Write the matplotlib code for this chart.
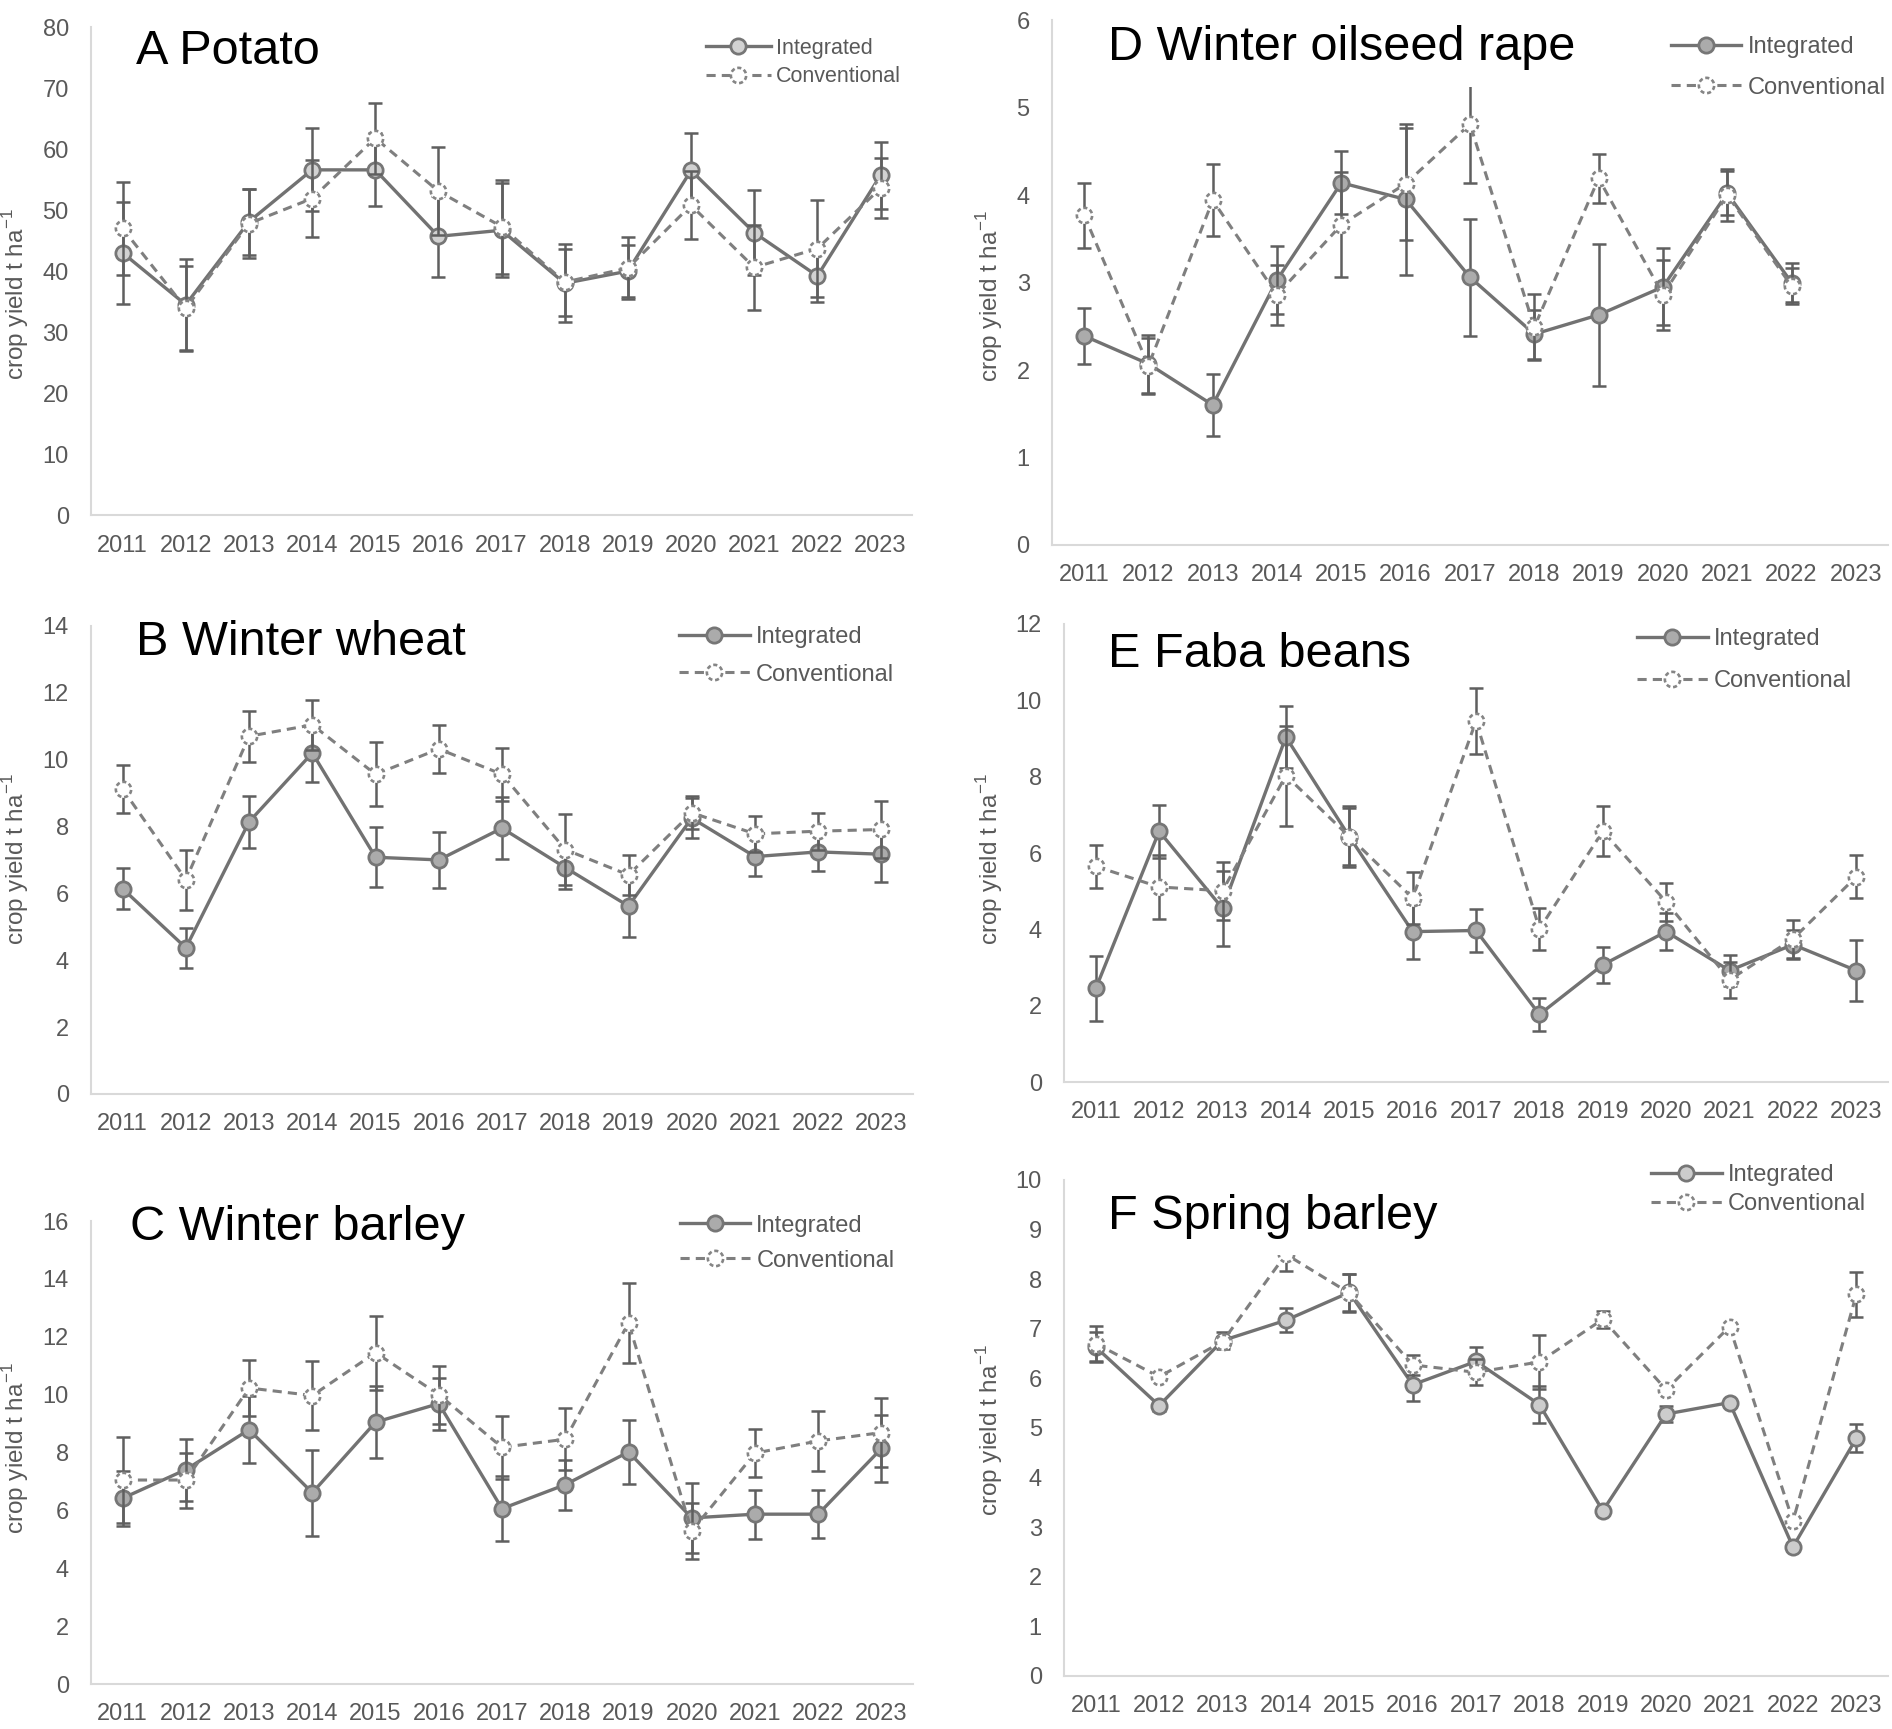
import numpy as np
import matplotlib
matplotlib.use('Agg')
import matplotlib.pyplot as plt
from matplotlib.path import Path

plt.rcParams['font.family'] = ['Liberation Sans', 'DejaVu Sans']

years = ['2011', '2012', '2013', '2014', '2015', '2016', '2017',
         '2018', '2019', '2020', '2021', '2022', '2023']
nan = np.nan

# A Potato
potato_int = [43.0, 34.5, 48.1, 56.6, 56.6, 45.7, 46.7, 38.0, 40.0, 56.5, 46.3, 39.2, 55.7]
potato_int_err = [8.4, 7.5, 5.4, 6.8, 6.0, 6.6, 7.7, 6.4, 4.2, 6.1, 7.0, 4.2, 5.5]
potato_conv = [47.0, 33.9, 47.8, 51.9, 61.8, 53.1, 47.3, 38.2, 40.5, 50.8, 40.6, 43.7, 53.6]
potato_conv_err = [7.6, 7.0, 5.7, 6.3, 5.8, 7.2, 7.7, 5.5, 5.1, 5.6, 7.0, 8.0, 4.9]

# B Winter wheat
wheat_int = [6.14, 4.37, 8.14, 10.2, 7.08, 7.0, 7.95, 6.77, 5.62, 8.25, 7.1, 7.24, 7.17]
wheat_int_err = [0.62, 0.6, 0.78, 0.87, 0.9, 0.85, 0.92, 0.63, 0.94, 0.6, 0.58, 0.56, 0.84]
wheat_conv = [9.12, 6.41, 10.7, 11.04, 9.56, 10.32, 9.56, 7.31, 6.55, 8.41, 7.78, 7.86, 7.91]
wheat_conv_err = [0.73, 0.9, 0.76, 0.74, 0.96, 0.73, 0.8, 1.05, 0.61, 0.5, 0.54, 0.55, 0.84]

# C Winter barley
wbarley_int = [6.42, 7.41, 8.79, 6.61, 9.05, 9.69, 6.06, 6.89, 8.02, 5.74, 5.87, 5.87, 8.14]
wbarley_int_err = [0.95, 1.07, 1.15, 1.49, 1.25, 0.9, 1.12, 0.86, 1.11, 1.2, 0.85, 0.82, 1.16]
wbarley_conv = [7.05, 7.05, 10.23, 9.97, 11.45, 10.0, 8.18, 8.46, 12.48, 5.29, 7.98, 8.4, 8.69]
wbarley_conv_err = [1.5, 0.95, 0.96, 1.18, 1.28, 1.0, 1.09, 1.07, 1.38, 0.97, 0.84, 1.03, 1.18]

# D Winter oilseed rape
rape_int = [2.39, 2.07, 1.60, 3.03, 4.14, 3.95, 3.06, 2.41, 2.63, 2.95, 4.02, 3.00, nan]
rape_int_err = [0.32, 0.33, 0.36, 0.39, 0.36, 0.86, 0.67, 0.28, 0.81, 0.44, 0.25, 0.22, nan]
rape_conv = [3.77, 2.05, 3.94, 2.86, 3.66, 4.13, 4.81, 2.49, 4.19, 2.86, 4.0, 2.96, nan]
rape_conv_err = [0.37, 0.32, 0.41, 0.34, 0.6, 0.64, 0.67, 0.38, 0.28, 0.4, 0.3, 0.21, nan]

# E Faba beans
faba_int = [2.45, 6.57, 4.55, 9.04, 6.43, 3.94, 3.97, 1.77, 3.07, 3.94, 2.92, 3.6, 2.92]
faba_int_err = [0.85, 0.7, 0.98, 0.82, 0.8, 0.73, 0.57, 0.44, 0.47, 0.49, 0.4, 0.37, 0.8]
faba_conv = [5.65, 5.11, 5.01, 8.03, 6.43, 4.82, 9.46, 4.01, 6.57, 4.72, 2.68, 3.75, 5.38]
faba_conv_err = [0.57, 0.83, 0.76, 1.31, 0.75, 0.68, 0.86, 0.56, 0.66, 0.5, 0.47, 0.5, 0.57]

# F Spring barley
sbarley_int = [6.63, 5.45, 6.76, 7.17, 7.73, 5.87, 6.34, 5.47, 3.33, 5.28, 5.51, 2.6, 4.79]
sbarley_int_err = [0.3, 0.1, 0.17, 0.24, 0.37, 0.32, 0.3, 0.37, 0, 0.17, 0, 0, 0.28]
sbarley_conv = [6.70, 6.03, 6.74, 8.5, 7.72, 6.27, 6.12, 6.33, 7.19, 5.77, 7.04, 3.12, 7.69]
sbarley_conv_err = [0.35, 0.05, 0.1, 0.34, 0.38, 0.2, 0.26, 0.55, 0.17, 0.05, 0, 0, 0.46]

GREY_TXT = '#595959'


def dashed_circle(n=7, frac=0.6):
    # open marker made of arc pieces, to look like a dashed outline
    verts = []
    codes = []
    for k in range(n):
        a0 = 2 * np.pi * k / n + 0.3
        t = np.linspace(a0, a0 + 2 * np.pi / n * frac, 6)
        for j, a in enumerate(t):
            verts.append((np.cos(a), np.sin(a)))
            codes.append(Path.MOVETO if j == 0 else Path.LINETO)
    return Path(verts, codes)


DASH_MARK = dashed_circle()


def draw_panel(ax, title, ymax, ystep, integ, integ_err, conv, conv_err,
               fill, title_xy, leg_xy, leg_size, leg_space, ylab_xy):
    x = np.arange(len(years))
    # Integrated
    ax.errorbar(x, integ, yerr=integ_err, fmt='none', ecolor='#5f5f5f',
                elinewidth=1.8, capsize=5, capthick=1.8, zorder=2)
    l_int, = ax.plot(x, integ, color='#727272', lw=2.4, marker='o', ms=11,
                     mfc=fill, mec='#767676', mew=2, zorder=3)
    # Conventional
    ax.errorbar(x, conv, yerr=conv_err, fmt='none', ecolor='#5f5f5f',
                elinewidth=1.8, capsize=5, capthick=1.8, zorder=4)
    l_conv, = ax.plot(x, conv, color='#7f7f7f', lw=2.2, ls=(0, (3, 2)),
                      marker='o', ms=12, mfc='white', mec='none', zorder=5)
    m_conv, = ax.plot(x, conv, ls='none', marker=DASH_MARK, ms=11,
                      mfc='none', mec='#858585', mew=1.9, zorder=6)

    ax.set_xlim(-0.5, len(years) - 0.5)
    ax.set_ylim(0, ymax)
    ax.set_xticks(x)
    ax.set_xticklabels(years)
    ax.set_yticks(np.arange(0, ymax + ystep / 2, ystep))
    ax.tick_params(axis='both', length=0, labelsize=17, colors=GREY_TXT)
    ax.tick_params(axis='x', pad=14)
    ax.tick_params(axis='y', pad=16)
    for s in ['top', 'right']:
        ax.spines[s].set_visible(False)
    for s in ['left', 'bottom']:
        ax.spines[s].set_color('#d9d9d9')
        ax.spines[s].set_linewidth(1.5)

    ax.set_ylabel('crop yield t ha$^{\\mathregular{-1}}$', fontsize=17.5,
                  color=GREY_TXT)
    ax.yaxis.set_label_coords(ylab_xy[0], ylab_xy[1])

    ax.text(title_xy[0], title_xy[1], title, transform=ax.transAxes,
            fontsize=35, color='black', ha='left', va='center', zorder=10,
            bbox=dict(facecolor='white', edgecolor='none', pad=12))

    leg = ax.legend([l_int, (l_conv, m_conv)], ['Integrated', 'Conventional'],
                    loc='center left', bbox_to_anchor=leg_xy, frameon=False,
                    fontsize=leg_size, handlelength=3.0, handletextpad=0.25,
                    labelspacing=leg_space, borderpad=0, borderaxespad=0,
                    numpoints=1)
    for t in leg.get_texts():
        t.set_color(GREY_TXT)
    leg.set_zorder(11)


fig = plt.figure(figsize=(18.92, 17.29), dpi=100)

axA = fig.add_axes([0.0481, 0.7021, 0.4340, 0.2822])
axD = fig.add_axes([0.5560, 0.6848, 0.4419, 0.3036])
axB = fig.add_axes([0.0481, 0.3673, 0.4345, 0.2707])
axE = fig.add_axes([0.5624, 0.3742, 0.4355, 0.2649])
axC = fig.add_axes([0.0481, 0.0260, 0.4345, 0.2678])
axF = fig.add_axes([0.5624, 0.0307, 0.4355, 0.2869])

draw_panel(axA, 'A Potato', 80, 10, potato_int, potato_int_err,
           potato_conv, potato_conv_err, '#d2d2d2',
           (0.055, 0.951), (0.749, 0.928), 15.5, 0.35, (-0.073, 0.453))
draw_panel(axB, 'B Winter wheat', 14, 2, wheat_int, wheat_int_err,
           wheat_conv, wheat_conv_err, '#ababab',
           (0.055, 0.964), (0.715, 0.936), 17, 0.65, (-0.073, 0.502))
draw_panel(axC, 'C Winter barley', 16, 2, wbarley_int, wbarley_int_err,
           wbarley_conv, wbarley_conv_err, '#ababab',
           (0.0475, 0.985), (0.716, 0.952), 17, 0.55, (-0.073, 0.51))
draw_panel(axD, 'D Winter oilseed rape', 6, 1, rape_int, rape_int_err,
           rape_conv, rape_conv_err, '#ababab',
           (0.067, 0.947), (0.740, 0.910), 17, 0.8, (-0.056, 0.474))
draw_panel(axE, 'E Faba beans', 12, 2, faba_int, faba_int_err,
           faba_conv, faba_conv_err, '#ababab',
           (0.053, 0.934), (0.695, 0.921), 17, 0.85, (-0.072, 0.487))
draw_panel(axF, 'F Spring barley', 10, 1, sbarley_int, sbarley_int_err,
           sbarley_conv, sbarley_conv_err, '#cccccc',
           (0.053, 0.927), (0.712, 0.980), 17, 0.3, (-0.072, 0.496))

fig.savefig('out.png', dpi=100)
